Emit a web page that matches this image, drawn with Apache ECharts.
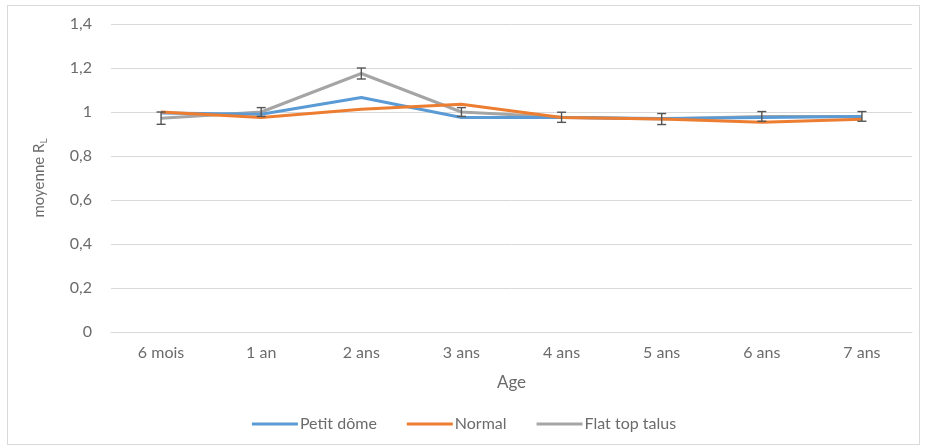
<!DOCTYPE html>
<html><head><meta charset="utf-8">
<script src="https://cdn.jsdelivr.net/npm/echarts@6/dist/echarts.min.js"></script>
<style>html,body{margin:0;padding:0;background:#fff;}
#frame{position:absolute;left:7px;top:5px;width:913px;height:440px;border:1px solid #d9d9d9;box-sizing:border-box;}
#c{position:absolute;left:0;top:0;width:928px;height:447px;}</style>
</head><body><div id="frame"></div><div id="c"></div>
<script>
var categories = ['6 mois','1 an','2 ans','3 ans','4 ans','5 ans','6 ans','7 ans'];
var petitDome = [0.995, 0.99, 1.066, 0.975, 0.975, 0.97, 0.975, 0.98];
var normal = [1.0, 0.975, 1.012, 1.035, 0.975, 0.968, 0.953, 0.967];
var flatTop = [0.972, 1.0, 1.175, 1.0, 0.976, 0.968, 0.98, 0.98];
var flatErr = [0.028, 0.02, 0.025, 0.02, 0.023, 0.025, 0.022, 0.022];
var yTicks = [0, 0.2, 0.4, 0.6, 0.8, 1, 1.2, 1.4];

var errData = categories.map(function(c,i){return [i, flatTop[i]-flatErr[i], flatTop[i]+flatErr[i]];});
var chart = echarts.init(document.getElementById('c'));
var font = 'Lato, "Open Sans", sans-serif';
var tc = '#6b6b6b';
chart.setOption({
  animation:false,
  textStyle:{fontFamily:font},
  grid:{left:111, right:16, top:24, bottom:115},
  legend:{bottom:10, left:'center', itemWidth:46, itemHeight:3, itemGap:30, icon:'rect',
    textStyle:{color:tc, fontSize:16, fontFamily:font, padding:[0,0,0,-3]},
    data:['Petit dôme','Normal','Flat top talus']},
  xAxis:{type:'category', data:categories, boundaryGap:true,
    name:'Age', nameLocation:'middle', nameGap:42,
    nameTextStyle:{color:tc, fontSize:17},
    axisLine:{lineStyle:{color:'#d9d9d9'}}, axisTick:{show:false},
    axisLabel:{color:tc, fontSize:16, margin:13}},
  yAxis:{type:'value', min:0, max:1.4, interval:0.2,
    name:'{a|moyenne R}{b|L}', nameLocation:'middle', nameGap:62, nameRotate:90,
    nameTextStyle:{color:tc, rich:{a:{fontSize:15,color:tc,fontFamily:font}, b:{fontSize:10,color:tc,fontFamily:font, verticalAlign:'bottom', padding:[9,0,0,0]}}},
    axisLine:{show:false}, axisTick:{show:false},
    splitLine:{lineStyle:{color:'#d9d9d9'}},
    axisLabel:{color:tc, fontSize:16, margin:19,
      formatter:function(v){var s=yTicks.indexOf(v)>=0?String(Math.round(v*10)/10):String(v);return s.replace('.',',');}}},
  series:[
    {name:'Petit dôme', type:'line', data:petitDome, symbol:'none', lineStyle:{width:3, color:'#5B9BD5'}, itemStyle:{color:'#5B9BD5'}, z:3},
    {name:'Normal', type:'line', data:normal, symbol:'none', lineStyle:{width:3, color:'#ED7D31'}, itemStyle:{color:'#ED7D31'}, z:4},
    {name:'Flat top talus', type:'line', data:flatTop, symbol:'none', lineStyle:{width:3, color:'#A5A5A5'}, itemStyle:{color:'#A5A5A5'}, z:2},
    {type:'custom', data:errData, z:10, silent:true,
      renderItem:function(params, api){
        var x = api.value(0);
        var lo = api.coord([x, api.value(1)]);
        var hi = api.coord([x, api.value(2)]);
        var w = 4.5;
        var st = {stroke:'#555555', lineWidth:1.4};
        return {type:'group', children:[
          {type:'line', shape:{x1:lo[0],y1:lo[1],x2:hi[0],y2:hi[1]}, style:st},
          {type:'line', shape:{x1:lo[0]-w,y1:lo[1],x2:lo[0]+w,y2:lo[1]}, style:st},
          {type:'line', shape:{x1:hi[0]-w,y1:hi[1],x2:hi[0]+w,y2:hi[1]}, style:st}
        ]};
      }}
  ]
});
</script></body></html>
